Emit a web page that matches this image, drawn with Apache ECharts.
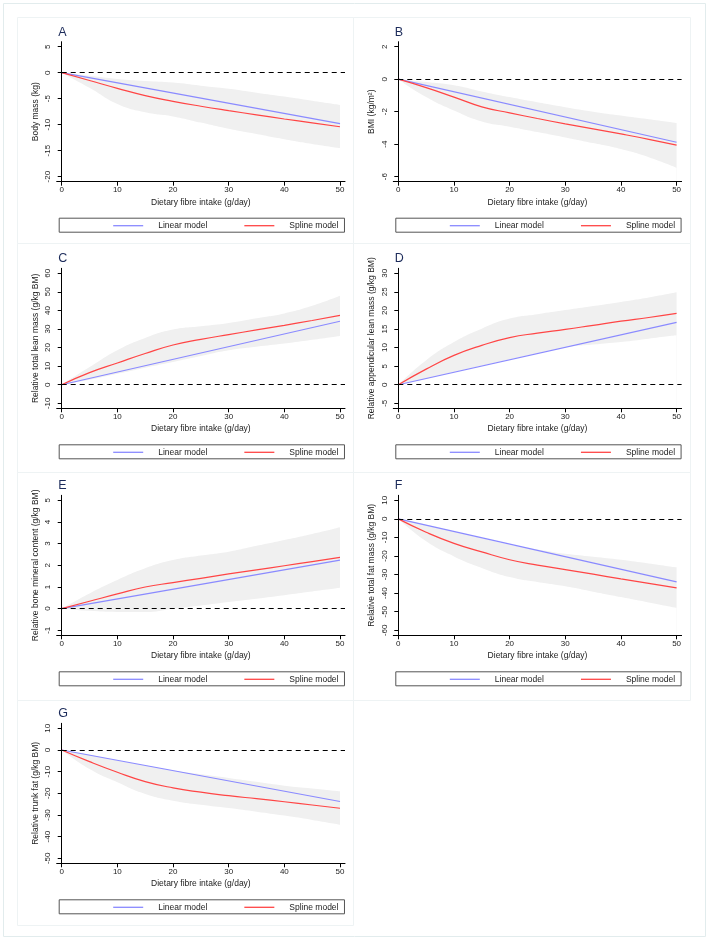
<!DOCTYPE html>
<html>
<head>
<meta charset="utf-8">
<script src="https://cdn.jsdelivr.net/npm/echarts@6/dist/echarts.min.js"></script>
<style>
  html, body { margin: 0; padding: 0; background: #fff; }
  #chart { width: 709px; height: 943px; }
</style>
</head>
<body>
<div id="chart"></div>
<script>
const xVals = [0, 5, 10, 15, 20, 25, 30, 35, 40, 45, 50];
const linearX = [0, 50];

const panelLetters = ["A", "B", "C", "D", "E", "F", "G"];
const yTitles = [
  "Body mass (kg)",
  "BMI (kg/m²)",
  "Relative total lean mass (g/kg BM)",
  "Relative appendicular lean mass (g/kg BM)",
  "Relative bone mineral content (g/kg BM)",
  "Relative total fat mass (g/kg BM)",
  "Relative trunk fat (g/kg BM)",
];
const yTicks = [
  [-20, -15, -10, -5, 0, 5],
  [-6, -4, -2, 0, 2],
  [-10, 0, 10, 20, 30, 40, 50, 60],
  [-5, 0, 5, 10, 15, 20, 25, 30],
  [-1, 0, 1, 2, 3, 4, 5],
  [-60, -50, -40, -30, -20, -10, 0, 10],
  [-50, -40, -30, -20, -10, 0, 10],
];
const xTicks = [0, 10, 20, 30, 40, 50];

// linear model: value at 0 and at 50
const linearA = [0, -9.8];
const linearB = [0, -3.88];
const linearC = [0, 34.2];
const linearD = [0, 16.8];
const linearE = [0, 2.24];
const linearF = [0, -33.9];
const linearG = [0, -23.8];

// spline model
const splineA = [0, -1.5, -3.0, -4.4, -5.5, -6.45, -7.3, -8.1, -8.9, -9.65, -10.4];
const splineB = [0, -0.52, -1.1, -1.7, -2.07, -2.42, -2.75, -3.06, -3.37, -3.7, -4.06];
const splineC = [0, 6.5, 11.7, 16.8, 21.4, 24.4, 27.0, 29.5, 32.0, 34.6, 37.3];
const splineD = [0, 4.2, 7.9, 10.6, 12.7, 13.9, 14.9, 16.0, 17.1, 18.1, 19.2];
const splineE = [0, 0.34, 0.68, 1.0, 1.2, 1.4, 1.6, 1.79, 1.98, 2.17, 2.37];
const splineF = [0, -7.2, -13.2, -17.8, -22.0, -24.9, -27.3, -29.8, -32.3, -34.7, -37.2];
const splineG = [0, -5.4, -10.3, -14.6, -17.5, -19.5, -21.1, -22.5, -23.9, -25.4, -26.9];

// 95% CI band (lower / upper)
const lowerA = [0, -2.9, -6.0, -7.6, -8.4, -9.6, -10.8, -11.8, -12.8, -13.7, -14.5];
const upperA = [0, -0.6, -1.2, -1.6, -1.9, -2.5, -3.1, -3.85, -4.6, -5.4, -6.2];
const lowerB = [0, -1.1, -1.93, -2.6, -2.92, -3.25, -3.58, -3.93, -4.3, -4.8, -5.45];
const upperB = [0, -0.17, -0.37, -0.75, -1.1, -1.42, -1.72, -2.0, -2.24, -2.47, -2.7];
const lowerC = [0, 2.7, 5.9, 9.2, 12.3, 15.5, 18.6, 20.5, 22.2, 24.2, 26.3];
const upperC = [0, 9.5, 18.6, 25.2, 29.7, 31.5, 33.3, 35.8, 38.4, 42.5, 47.9];
const lowerD = [0, 1.6, 3.4, 5.1, 6.8, 8.4, 10.0, 10.8, 11.5, 12.4, 13.3];
const upperD = [0, 6.6, 11.5, 15.1, 17.8, 19.0, 20.1, 21.2, 22.3, 23.5, 24.9];
const lowerE = [0, -0.1, -0.15, -0.15, 0.0, 0.15, 0.31, 0.46, 0.62, 0.79, 0.96];
const upperE = [0, 0.7, 1.32, 1.86, 2.24, 2.45, 2.63, 2.9, 3.17, 3.45, 3.76];
const lowerF = [0, -12.1, -20.2, -26.4, -31.3, -34.0, -36.3, -39.2, -42.1, -45.0, -47.9];
const upperF = [0, -3.2, -6.8, -10.4, -13.9, -16.5, -18.8, -20.4, -22.0, -24.0, -26.1];
const lowerG = [0, -8.8, -14.9, -20.3, -23.4, -25.3, -26.8, -28.5, -30.3, -32.3, -34.5];
const upperG = [0, -2.2, -4.9, -7.2, -9.5, -11.2, -12.9, -14.7, -16.5, -17.8, -19.1];

const linears = [linearA, linearB, linearC, linearD, linearE, linearF, linearG];
const splines = [splineA, splineB, splineC, splineD, splineE, splineF, splineG];
const lowers = [lowerA, lowerB, lowerC, lowerD, lowerE, lowerF, lowerG];
const uppers = [upperA, upperB, upperC, upperD, upperE, upperF, upperG];

const FONT = "'Liberation Sans', Arial, sans-serif";
const BLUE = "#8a8aff";
const RED = "#ff4545";
const BAND = "#f0f0f0";
const SMOOTH = 0.5;

// layout (px)
const colLeft = [56.7, 393.3];
const rowTickTop = [46.7, 273.3, 500.3, 728.3];
const gridW = 288.3;
const gridH = 140;
const tickSpan = 130;
const xMin = -0.9, xMax = 50.9;

const grids = [], xAxes = [], yAxes = [], series = [], legends = [], titles = [];

panelLetters.forEach((letter, i) => {
  const c = i % 2, r = Math.floor(i / 2);
  const left = colLeft[c];
  const tickTop = rowTickTop[r];
  const ticks = yTicks[i];
  const lo = ticks[0], hi = ticks[ticks.length - 1];
  const ext = (hi - lo) * 5 / tickSpan;

  grids.push({ left: left, top: tickTop - 5, width: gridW, height: gridH });

  xAxes.push({
    type: "value", gridIndex: i, min: xMin, max: xMax, z: 10,
    name: "Dietary fibre intake (g/day)", nameLocation: "middle", nameGap: 16,
    nameTextStyle: { fontFamily: FONT, fontSize: 8.5, color: "#222" },
    axisLine: { onZero: false, lineStyle: { color: "#000", width: 1 } },
    axisTick: { customValues: xTicks, length: 4, lineStyle: { color: "#000" } },
    axisLabel: { customValues: xTicks, fontFamily: FONT, fontSize: 8, color: "#222", margin: 4 },
    splitLine: { show: false },
  });

  yAxes.push({
    type: "value", gridIndex: i, min: lo - ext, max: hi + ext, z: 10,
    name: yTitles[i], nameLocation: "middle", nameRotate: 90, nameGap: 17,
    nameTextStyle: { fontFamily: FONT, fontSize: 8.5, color: "#222" },
    axisLine: { show: true, lineStyle: { color: "#000", width: 1 } },
    axisTick: { show: true, customValues: ticks, length: 4, lineStyle: { color: "#000" } },
    axisLabel: { customValues: ticks, rotate: 90, fontFamily: FONT, fontSize: 8, color: "#222", margin: 5 },
    splitLine: { show: false },
  });

  // CI band: grey fill below the upper edge, then white fill below the lower edge
  series.push({
    type: "line", name: "ciUpper" + i, xAxisIndex: i, yAxisIndex: i,
    data: xVals.map((x, k) => [x, uppers[i][k]]),
    smooth: SMOOTH, symbol: "none", lineStyle: { width: 0, opacity: 0 },
    areaStyle: { color: BAND, opacity: 1, origin: "start" }, silent: true, z: 1,
  });
  series.push({
    type: "line", name: "ciLower" + i, xAxisIndex: i, yAxisIndex: i,
    data: xVals.map((x, k) => [x, lowers[i][k]]),
    smooth: SMOOTH, symbol: "none", lineStyle: { width: 0, opacity: 0 },
    areaStyle: { color: "#fff", opacity: 1, origin: "start" }, silent: true, z: 2,
  });
  series.push({
    type: "line", name: "Linear model", xAxisIndex: i, yAxisIndex: i,
    data: linearX.map((x, k) => [x, linears[i][k]]),
    symbol: "none", lineStyle: { color: BLUE, width: 1.2 }, itemStyle: { color: BLUE }, z: 3,
  });
  series.push({
    type: "line", name: "Spline model", xAxisIndex: i, yAxisIndex: i,
    data: xVals.map((x, k) => [x, splines[i][k]]),
    smooth: SMOOTH, symbol: "none", lineStyle: { color: RED, width: 1.2 }, itemStyle: { color: RED }, z: 4,
    markLine: {
      silent: true, symbol: "none", label: { show: false },
      lineStyle: { color: "#000", type: [5, 4], width: 1 },
      data: [[{ coord: [0, 0] }, { coord: [xMax, 0] }]],
    },
  });

  legends.push({
    data: ["Linear model", "Spline model"],
    left: left + 2.5, top: tickTop + 171.5,
    orient: "horizontal",
    icon: "rect",
    padding: [3, 6, 2, 54],
    itemGap: 37, itemWidth: 30, itemHeight: 1.3,
    borderColor: "#555", borderWidth: 1, borderRadius: 0,
    selectedMode: false,
    textStyle: { fontFamily: FONT, fontSize: 8.5, color: "#222", padding: [0, 0, 0, 10] },
  });

  titles.push({
    text: letter, left: left + 1.5, top: tickTop - 21, padding: 0,
    textStyle: { fontFamily: FONT, fontSize: 12.5, fontWeight: "normal", color: "#1c2b5a" },
  });
});

// faint panel frames
const frameColor = "#eef3f4";
const cols = [17, 353, 690];
const rows = [17, 243, 472, 700, 925];
const frames = [{
  type: "rect", z: -10, silent: true,
  shape: { x: 3.5, y: 3.5, width: 702, height: 933 },
  style: { fill: "none", stroke: "#e2eced", lineWidth: 1 },
}];
for (let i = 0; i < 7; i++) {
  const c = i % 2, r = Math.floor(i / 2);
  frames.push({
    type: "rect", z: -10, silent: true,
    shape: { x: cols[c] + 0.5, y: rows[r] + 0.5, width: cols[c + 1] - cols[c], height: rows[r + 1] - rows[r] },
    style: { fill: "none", stroke: frameColor, lineWidth: 1 },
  });
}

const chart = echarts.init(document.getElementById("chart"));
chart.setOption({
  backgroundColor: "#fff",
  animation: false,
  title: titles,
  grid: grids,
  xAxis: xAxes,
  yAxis: yAxes,
  legend: legends,
  series: series,
  graphic: frames,
});
</script>
</body>
</html>
